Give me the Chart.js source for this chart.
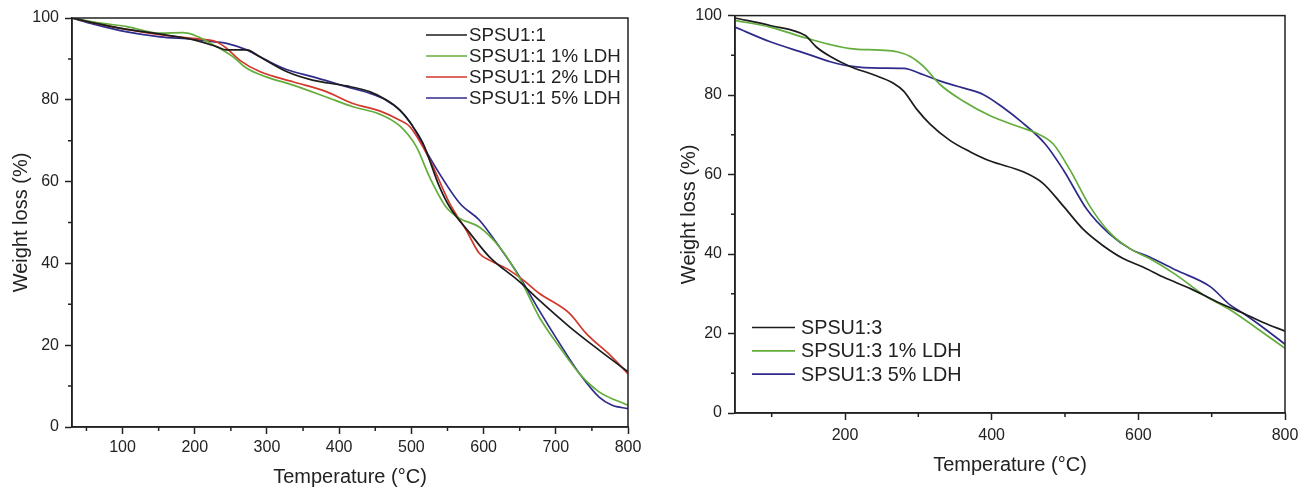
<!DOCTYPE html>
<html lang="en">
<head>
  <meta charset="UTF-8">
  <title>TGA curves</title>
  <script src="https://cdn.jsdelivr.net/npm/chart.js@4"></script>
  <style>
    body { margin: 0; background: #fff; }
    .wrap { position: absolute; top: 0; height: 492px; }
    #leftWrap { left: 0; width: 655px; }
    #rightWrap { left: 655px; width: 654px; }
  </style>
</head>
<body>
  <div id="leftWrap" class="wrap"><canvas id="left"></canvas></div>
  <div id="rightWrap" class="wrap"><canvas id="right"></canvas></div>

  <script>
    // left panel: SPSU1:1 series
    const t11 = [30, 60, 100, 150, 200, 230, 244, 272, 290, 327, 363, 410, 442, 465, 484, 500, 516, 539, 553, 581, 608, 650, 677, 719, 760, 800];
    const w11 = [100, 98.8, 97.4, 96.1, 94.6, 93, 92.2, 92.2, 90.5, 86.9, 84.8, 83.4, 82, 80, 77.5, 74, 69.4, 58.7, 53.8, 47.4, 41.6, 35.5, 31, 24.5, 18.8, 13.5];
    const t11_1 = [30, 60, 106, 152, 184, 202, 230, 253, 272, 299, 336, 382, 419, 456, 484, 507, 525, 548, 567, 594, 622, 650, 677, 705, 733, 760, 800];
    const w11_1 = [100, 99, 97.9, 96.3, 96.4, 95.6, 93, 90.5, 87.7, 85.6, 83.6, 80.7, 78.3, 76.5, 73.6, 68.5, 61.2, 53.8, 51, 48.9, 44, 36.4, 26.9, 19.6, 13, 8.6, 5.3];
    const t11_2 = [30, 60, 106, 152, 198, 230, 244, 262, 290, 336, 382, 419, 456, 484, 498, 525, 553, 576, 594, 608, 636, 655, 677, 719, 742, 778, 800];
    const w11_2 = [100, 98.8, 97.2, 95.9, 95, 94.2, 92.6, 89.7, 86.9, 84.4, 82, 79.1, 77.3, 75, 73.4, 65.5, 54.7, 48.1, 42.5, 40.8, 38.3, 35.9, 32.7, 27.8, 22.9, 17.1, 13];
    const t11_5 = [30, 60, 106, 152, 198, 225, 244, 272, 299, 327, 364, 410, 442, 465, 484, 498, 525, 567, 594, 622, 650, 677, 705, 733, 760, 778, 800];
    const w11_5 = [100, 98.5, 96.6, 95.4, 94.8, 94.2, 93.8, 92.2, 89.7, 87.4, 85.6, 83.2, 81.6, 79.9, 77.5, 74.6, 66, 54.7, 50.6, 44, 36.7, 28.5, 20.5, 13, 7.3, 5.3, 4.5];

    // right panel: SPSU1:3 series
    const t13 = [50, 98, 146, 149, 161, 180, 207, 239, 266, 280, 298, 316, 343, 371, 398, 443, 470, 498, 525, 552, 580, 607, 634, 671, 707, 743, 771, 800];
    const w13 = [99.4, 97.5, 95, 94.5, 92.1, 89.7, 87.2, 85.1, 83, 81, 76.4, 72.7, 68.6, 65.7, 63.4, 60.7, 57.8, 52, 46.2, 42.1, 38.8, 36.7, 34.2, 31.3, 28, 25.1, 22.7, 20.6];
    const t13_1 = [50, 98, 146, 180, 207, 248, 271, 289, 307, 330, 361, 398, 439, 460, 484, 507, 534, 561, 589, 616, 652, 689, 725, 761, 800];
    const w13_1 = [98.8, 97.1, 94.4, 92.7, 91.7, 91.3, 90.9, 89.7, 87.2, 82.6, 78.5, 74.8, 71.9, 70.5, 67.7, 61.1, 52, 45.4, 41.3, 38.8, 34.7, 29.7, 26, 21.4, 16.3];
    const t13_5 = [50, 98, 146, 180, 207, 248, 280, 307, 330, 361, 389, 416, 439, 473, 498, 530, 561, 589, 616, 652, 698, 725, 743, 771, 800];
    const w13_5 = [97.1, 93.4, 90.5, 88.4, 87.3, 86.8, 86.7, 85.1, 83.5, 81.8, 80.1, 76.8, 73.5, 67.7, 61.1, 51.2, 45, 41.3, 39.2, 35.9, 31.8, 27.2, 25.1, 21.4, 17.3];

    const leftLabels = ['SPSU1:1', 'SPSU1:1 1% LDH', 'SPSU1:1 2% LDH', 'SPSU1:1 5% LDH'];
    const rightLabels = ['SPSU1:3', 'SPSU1:3 1% LDH', 'SPSU1:3 5% LDH'];

    const FONT = '"Liberation Sans", Arial, sans-serif';
    const INK = '#222';
    const BLACK = '#1c1c1c', GREEN = '#62ad3c', RED = '#d0392b', BLUE = '#2e2b8a';

    Chart.defaults.font.family = FONT;
    Chart.defaults.color = INK;

    function pts(t, w) { return t.map((x, i) => ({ x: x, y: w[i] })); }
    function ds(label, t, w, color) {
      return { label, data: pts(t, w), borderColor: color, borderWidth: 1.7,
               pointRadius: 0, cubicInterpolationMode: 'monotone', fill: false };
    }

    // frame, minor ticks and inside legend
    const extras = {
      id: 'extras',
      afterDraw(chart, args, o) {
        const { ctx, chartArea: a } = chart;
        ctx.save();
        ctx.strokeStyle = INK;
        ctx.lineWidth = 1.5;
        ctx.strokeRect(a.left, a.top, a.right - a.left, a.bottom - a.top);

        const xs = chart.scales.x, ys = chart.scales.y;
        ctx.beginPath();
        for (let v = o.xMinor[0]; v <= xs.max; v += o.xMinor[1]) {
          const px = xs.getPixelForValue(v);
          ctx.moveTo(px, a.bottom); ctx.lineTo(px, a.bottom + 4);
        }
        for (let v = o.yMinor[0]; v <= ys.max; v += o.yMinor[1]) {
          const py = ys.getPixelForValue(v);
          ctx.moveTo(a.left, py); ctx.lineTo(a.left - 4, py);
        }
        ctx.stroke();

        ctx.font = o.fontSize + 'px ' + FONT;
        ctx.textBaseline = 'middle';
        ctx.textAlign = 'left';
        chart.data.datasets.forEach((d, i) => {
          const y = o.y0 + i * o.dy;
          ctx.strokeStyle = d.borderColor;
          ctx.lineWidth = 1.7;
          ctx.beginPath();
          ctx.moveTo(o.x0, y); ctx.lineTo(o.x1, y);
          ctx.stroke();
          ctx.fillStyle = INK;
          ctx.fillText(d.label, o.xt, y + 1);
        });
        ctx.restore();
      }
    };

    function makeChart(id, datasets, cfg) {
      return new Chart(document.getElementById(id), {
        type: 'line',
        data: { datasets },
        plugins: [extras],
        options: {
          responsive: true,
          maintainAspectRatio: false,
          animation: false,
          layout: { padding: { top: cfg.top, right: cfg.right, left: 0, bottom: 0 } },
          plugins: { legend: { display: false }, tooltip: { enabled: false }, extras: cfg.extras },
          scales: {
            x: {
              type: 'linear', min: cfg.xMin, max: 800,
              ticks: { stepSize: cfg.xStep, padding: cfg.xPad, font: { size: 16 }, color: INK, maxRotation: 0 },
              afterBuildTicks: s => { s.ticks = s.ticks.filter(t => t.value % cfg.xStep === 0); },
              afterFit: s => { s.height = cfg.xH; },
              grid: { drawOnChartArea: false, tickLength: 7, tickColor: INK, tickWidth: 1.5 },
              border: { color: INK, width: 1.5 },
              title: { display: true, text: 'Temperature (°C)', font: { size: 20 }, color: INK,
                       padding: { top: 0, bottom: cfg.xTitlePad } }
            },
            y: {
              min: 0, max: 100,
              ticks: { stepSize: 20, padding: 6, font: { size: 16 }, color: INK },
              afterFit: s => { s.width = cfg.yW; },
              grid: { drawOnChartArea: false, tickLength: 7, tickColor: INK, tickWidth: 1.5 },
              border: { color: INK, width: 1.5 },
              title: { display: true, text: 'Weight loss (%)', font: { size: 20 }, color: INK,
                       padding: { top: cfg.yTitlePad, bottom: 0 } }
            }
          }
        }
      });
    }

    makeChart('left', [
      ds(leftLabels[0], t11, w11, BLACK),
      ds(leftLabels[1], t11_1, w11_1, GREEN),
      ds(leftLabels[2], t11_2, w11_2, RED),
      ds(leftLabels[3], t11_5, w11_5, BLUE)
    ], {
      top: 18, right: 27, xMin: 30, xStep: 100, xPad: 4, xH: 65, yW: 72,
      xTitlePad: 2.5, yTitlePad: 9,
      extras: { xMinor: [50, 100], yMinor: [10, 20], fontSize: 18.7,
                x0: 426, x1: 467, xt: 469, y0: 35, dy: 21 }
    });

    makeChart('right', [
      ds(rightLabels[0], t13, w13, BLACK),
      ds(rightLabels[1], t13_1, w13_1, GREEN),
      ds(rightLabels[2], t13_5, w13_5, BLUE)
    ], {
      top: 10, right: 24, xMin: 50, xStep: 200, xPad: 6, xH: 79, yW: 80,
      xTitlePad: 15, yTitlePad: 22,
      extras: { xMinor: [100, 200], yMinor: [10, 20], fontSize: 19.8,
                x0: 97, x1: 140, xt: 146, y0: 327.5, dy: 23.3 }
    });
  </script>
</body>
</html>
